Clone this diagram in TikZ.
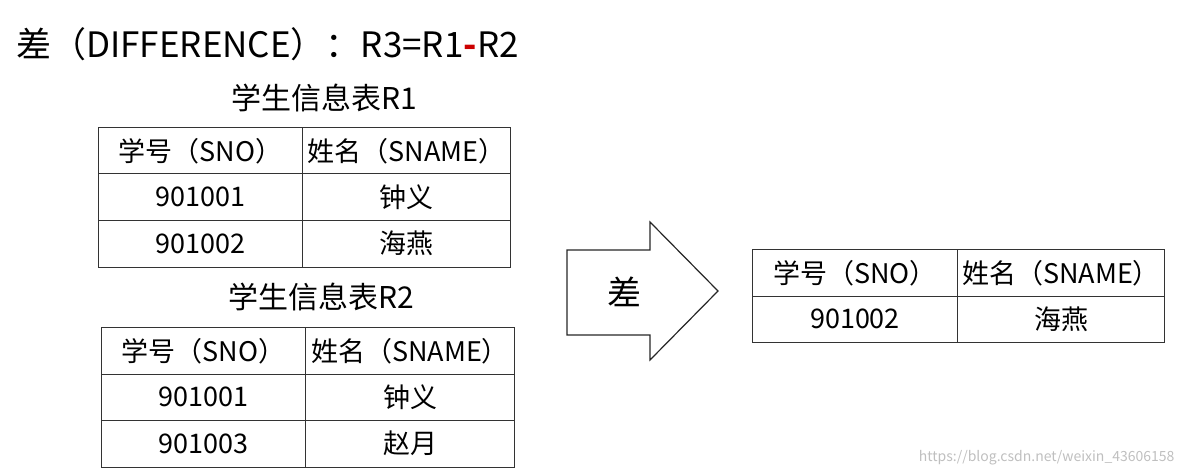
\documentclass[tikz,border=0pt]{standalone}
\usepackage{fontspec}
\setmainfont{Noto Sans CJK SC}
\begin{document}
\begin{tikzpicture}[x=1pt,y=-1pt,
  cell/.style={draw=black!80,line width=1pt,minimum height=46.5pt,inner sep=0pt,anchor=north west,font=\fontsize{27}{29}\selectfont},
  tcap/.style={font=\fontsize{30}{32}\selectfont}]
\useasboundingbox (0,0) rectangle (1184,476);
\node[anchor=west,inner sep=0pt,font=\fontsize{35}{38}\selectfont] (title) at (16,44) {差（DIFFERENCE）：R3=R1\textcolor{red!80!black}{\textbf{-}}R2};
% R1
\node[tcap] (c1) at (324,98) {学生信息表R1};
\node[cell,minimum width=204pt] (a11) at (98,127) {学号（SNO）};
\node[cell,minimum width=208pt] (a12) at (302,127) {姓名（SNAME）};
\node[cell,minimum width=204pt] (a21) at (98,173.5) {901001};
\node[cell,minimum width=208pt] (a22) at (302,173.5) {钟义};
\node[cell,minimum width=204pt] (a31) at (98,220) {901002};
\node[cell,minimum width=208pt] (a32) at (302,220) {海燕};
% R2
\node[tcap] (c2) at (321,297) {学生信息表R2};
\node[cell,minimum width=204pt] (b11) at (101,327) {学号（SNO）};
\node[cell,minimum width=209pt] (b12) at (305,327) {姓名（SNAME）};
\node[cell,minimum width=204pt] (b21) at (101,373.5) {901001};
\node[cell,minimum width=209pt] (b22) at (305,373.5) {钟义};
\node[cell,minimum width=204pt] (b31) at (101,420) {901003};
\node[cell,minimum width=209pt] (b32) at (305,420) {赵月};
% arrow
\draw[black!85,line width=1.2pt] (567,250) -- (650,250) -- (650,222) -- (718,291) -- (650,360) -- (650,335) -- (567,335) -- cycle;
\node[font=\fontsize{34}{36}\selectfont] (op) at (624,292) {差};
% result
\node[cell,minimum width=205pt] (r11) at (752,249) {学号（SNO）};
\node[cell,minimum width=207pt] (r12) at (957,249) {姓名（SNAME）};
\node[cell,minimum width=205pt] (r21) at (752,295.5) {901002};
\node[cell,minimum width=207pt] (r22) at (957,295.5) {海燕};
\node[anchor=east,text=black!25,font=\fontsize{14}{15}\selectfont] (wm) at (1178,458) {https://blog.csdn.net/weixin\_43606158};
\end{tikzpicture}
\end{document}
